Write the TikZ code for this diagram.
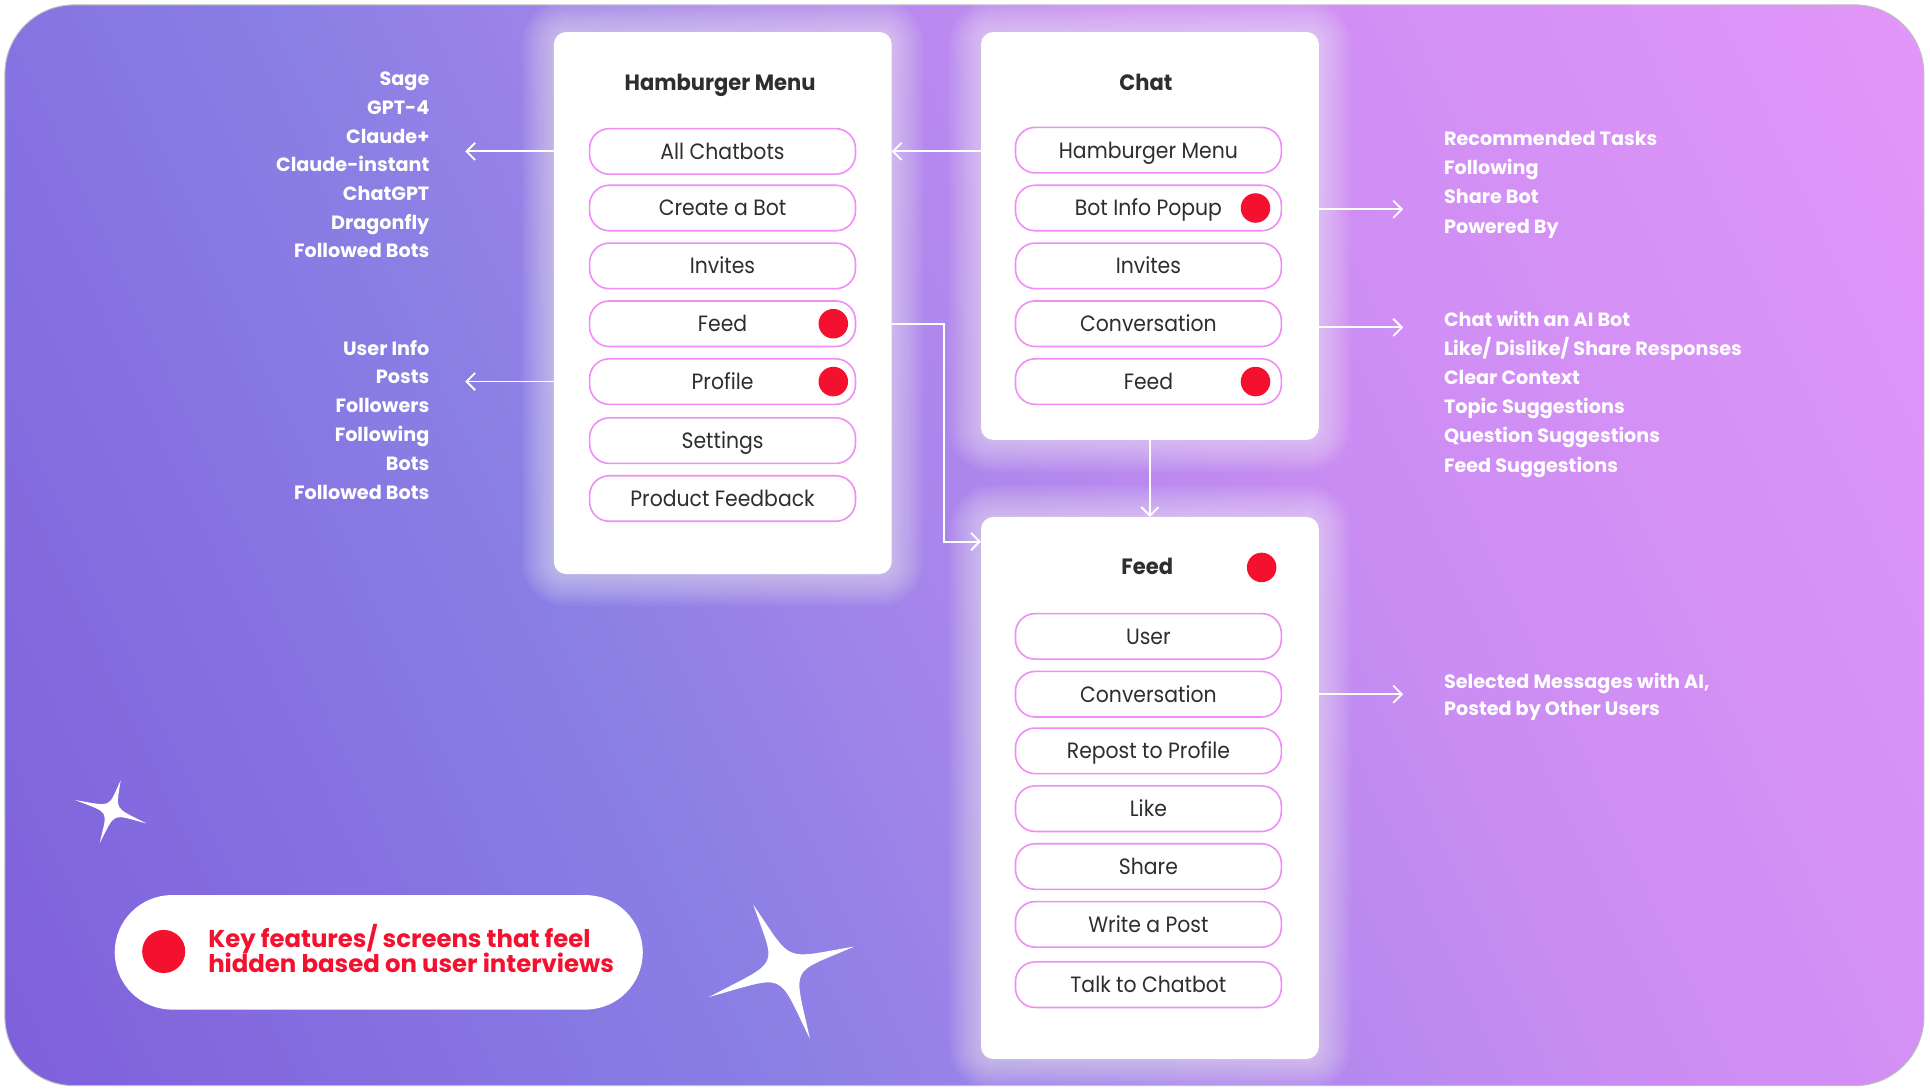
\documentclass[tikz,border=0pt]{standalone}
\usepackage{fontspec}
\setmainfont{Poppins}
\newfontfamily\itemfont{Poppins}[FakeStretch=0.92]
\newfontfamily\titlefont{Poppins}[FakeStretch=0.95]
\usetikzlibrary{arrows.meta,calc}
\definecolor{bgA}{HTML}{7646D4}
\definecolor{bgB}{HTML}{8A7FE4}
\definecolor{bgM}{HTML}{CB8DF3}
\definecolor{bgC}{HTML}{F59DFE}
\definecolor{pinkline}{HTML}{EE8EF6}
\definecolor{hotred}{HTML}{F4112F}
\definecolor{txt}{HTML}{2E2E2E}
\pgfdeclarehorizontalshading{bgshade}{100bp}{color(0bp)=(bgA); color(38bp)=(bgB); color(62bp)=(bgM); color(100bp)=(bgC)}
\tikzset{
  card/.style={inner sep=0pt, minimum width=274pt, draw=none},
  item/.style={draw=pinkline, line width=1.3pt, fill=white, rounded corners=16pt,
    minimum width=216pt, minimum height=37pt, inner sep=0pt, text=txt,
    font=\itemfont\fontsize{18}{22}\selectfont, text height=12.8pt, text depth=0pt},
  ctitle/.style={text=txt, font=\titlefont\fontsize{18}{22}\selectfont\bfseries, text height=12.8pt, text depth=0pt, inner sep=0pt},
  rdot/.style={circle, fill=hotred, minimum size=24pt, inner sep=0pt},
  sidel/.style={text=white, font=\fontsize{15.6}{20}\selectfont\bfseries, inner sep=0pt},
  legl/.style={text=hotred, font=\fontsize{19.8}{20}\selectfont\bfseries, inner sep=0pt, anchor=base west},
  conn/.style={draw=white, line width=1.5pt, -{Straight Barb[length=7pt,width=14pt,line width=1.5pt]}},
}
\newcommand\mysparkle[5]{%
  \fill[white] (#2) .. controls ($(#1)!0.12!(#3)$) and ($(#1)!0.12!(#2)$) .. (#3)
    .. controls ($(#1)!0.12!(#4)$) and ($(#1)!0.12!(#3)$) .. (#4)
    .. controls ($(#1)!0.12!(#5)$) and ($(#1)!0.12!(#4)$) .. (#5)
    .. controls ($(#1)!0.12!(#2)$) and ($(#1)!0.12!(#5)$) .. (#2) -- cycle;}
\begin{document}
\begin{tikzpicture}[x=1pt,y=-1pt]
\useasboundingbox (0,0) rectangle (1568,886);
\fill[white] (0,0) rectangle (1568,886);
\begin{scope}[y=1pt]
  \shade[shading=bgshade, shading angle=25, rounded corners=56pt] (4,-4) rectangle (1563,-882);
  \draw[black!25, line width=0.8pt, rounded corners=56pt] (4,-4) rectangle (1563,-882);
\end{scope}

% cards (placeholders)
\node[card, minimum height=440pt, anchor=north west] (hm) at (450,26) {};
\node[card, minimum height=331pt, anchor=north west] (ch) at (797,26) {};
\node[card, minimum height=440pt, anchor=north west] (fd) at (797,420) {};
% glow
\foreach \n in {hm,ch,fd}{
  \foreach \g in {2,4,...,26}{
    \fill[white, opacity=0.045, rounded corners={10+\g}] ($(\n.north west)+(-\g,-\g)$) rectangle ($(\n.south east)+(\g,\g)$);
  }
}
\foreach \n in {hm,ch,fd}{
  \fill[white, rounded corners=10pt] (\n.north west) rectangle (\n.south east);
}

% titles
\node[ctitle] (hmt) at (585,67) {Hamburger Menu};
\node[ctitle] (cht) at (931,67) {Chat};
\node[ctitle] (fdt) at (932,460) {Feed};

% items
\foreach \t/\y [count=\i] in {All Chatbots/123, Create a Bot/169, Invites/216, Feed/263, Profile/310, Settings/358, Product Feedback/405}
  \node[item] (hm\i) at (587,\y) {\t};
\foreach \t/\y [count=\i] in {Hamburger Menu/122, Bot Info Popup/169, Invites/216, Conversation/263, Feed/310}
  \node[item] (ch\i) at (933,\y) {\t};
\foreach \t/\y [count=\i] in {User/517, Conversation/564, Repost to Profile/610, Like/657, Share/704, Write a Post/751, Talk to Chatbot/800}
  \node[item] (fd\i) at (933,\y) {\t};

% red dots
\node[rdot] (d1) at (677,263) {};
\node[rdot] (d2) at (677,310) {};
\node[rdot] (d3) at (1020,169) {};
\node[rdot] (d4) at (1020,310) {};
\node[rdot] (d5) at (1025,461) {};

% side texts
\foreach \t [count=\i] in {Sage, GPT-4, Claude+, Claude-instant, ChatGPT, Dragonfly, Followed Bots}
  \node[sidel, anchor=base east] (la\i) at (349,{64+23.35*(\i-1)+5.5}) {\t};
\foreach \t [count=\i] in {User Info, Posts, Followers, Following, Bots, Followed Bots}
  \node[sidel, anchor=base east] (lb\i) at (349,{283+23.4*(\i-1)+5.5}) {\t};
\foreach \t [count=\i] in {Recommended Tasks, Following, Share Bot, Powered By}
  \node[sidel, anchor=base west] (ra\i) at (1173,{113+23.6*(\i-1)+5.5}) {\t};
\foreach \t [count=\i] in {Chat with an AI Bot, Like/ Dislike/ Share Responses, Clear Context, Topic Suggestions, Question Suggestions, Feed Suggestions}
  \node[sidel, anchor=base west] (rb\i) at (1173,{260+23.6*(\i-1)+5.5}) {\t};
\node[sidel, anchor=base west] (rc1) at (1173,559.5) {Selected Messages with AI,};
\node[sidel, anchor=base west] (rc2) at (1173,581.5) {Posted by Other Users};

% connectors
\coordinate (la) at (378,123);
\draw[conn] (hm.west |- la) -- (la);
\coordinate (lb) at (378,310);
\draw[conn] (hm.west |- lb) -- (lb);
\draw[conn] (ch.west |- hm1) -- (hm.east |- hm1);
\coordinate (bend) at (767,440);
\draw[conn] (hm.east |- hm4) -| (bend) -- (bend -| fd.west);
\draw[conn] (ch.south) -- (fd.north);
\coordinate (ra) at (1140,170);
\draw[conn] (ch.east |- ra) -- (ra);
\coordinate (rb) at (1140,266);
\draw[conn] (ch.east |- rb) -- (rb);
\coordinate (rc) at (1140,564);
\draw[conn] (fd.east |- rc) -- (rc);

% legend
\node[fill=white, rounded corners=46.5pt, minimum width=429pt, minimum height=93pt, anchor=north west, inner sep=0pt] (leg) at (93,727) {};
\node[circle, fill=hotred, minimum size=35pt, inner sep=0pt] (legdot) at (133,773) {};
\node[legl] (leg1) at (169,770) {Key features/ screens that feel};
\node[legl] (leg2) at (169,790) {hidden based on user interviews};

% sparkles
\coordinate (sAc) at (638,785);
\coordinate (sAt) at (612,735);
\coordinate (sAr) at (694,769);
\coordinate (sAb) at (658,844);
\coordinate (sAl) at (576,810);
\mysparkle{sAc}{sAt}{sAr}{sAb}{sAl}
\coordinate (sBc) at (91,658);
\coordinate (sBt) at (98,634);
\coordinate (sBr) at (119,669);
\coordinate (sBb) at (81,685);
\coordinate (sBl) at (61,650);
\mysparkle{sBc}{sBt}{sBr}{sBb}{sBl}
\end{tikzpicture}
\end{document}
